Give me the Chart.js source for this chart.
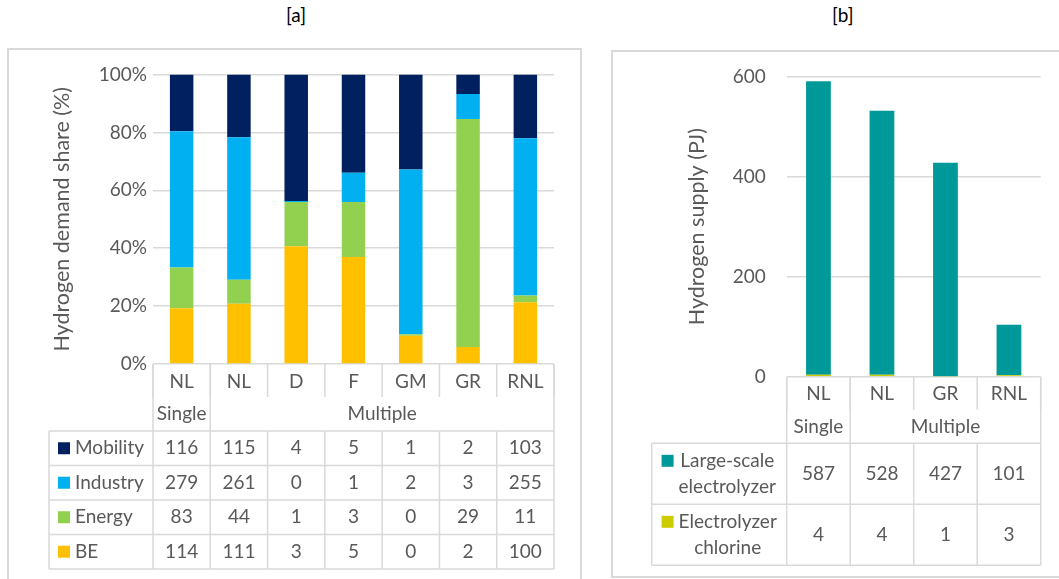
<!DOCTYPE html>
<html>
<head>
<meta charset="utf-8">
<script src="https://cdn.jsdelivr.net/npm/chart.js@4"></script>
<style>
body { margin: 0; width: 1059px; height: 579px; background: #fff; position: relative; overflow: hidden; font-family: Lato, sans-serif; }
.panel { position: absolute; border: 2px solid #D9D9D9; box-sizing: border-box; }
.tag { position: absolute; top: 3px; font-size: 19px; color: #000; }
canvas { position: absolute; }
</style>
</head>
<body>
<div class="tag" style="left:286px">[a]</div>
<div class="tag" style="left:832px">[b]</div>
<div class="panel" style="left:7px;top:48px;width:575px;height:545px"></div>
<div class="panel" style="left:611px;top:50px;width:460px;height:528px"></div>
<canvas id="chartA" width="571" height="529" style="left:9px;top:50px"></canvas>
<canvas id="chartB" width="447" height="528" style="left:612px;top:51px"></canvas>
<script>
// [a] hydrogen demand share, bars in %
const demandCats = ['NL', 'NL', 'D', 'F', 'GM', 'GR', 'RNL']
const demandGroups = [['Single', 1], ['Multiple', 6]]
const beShare = [19.3, 20.8, 40.7, 37.0, 9.8, 5.9, 21.3]
const energyShare = [14.0, 8.3, 15.3, 19.0, 0.5, 78.7, 2.4]
const industryShare = [47.1, 49.2, 0.3, 10.1, 56.9, 8.7, 54.3]
const mobilityShare = [19.6, 21.7, 43.7, 33.9, 32.8, 6.7, 22.0]
// table values (PJ)
const mobilityPJ = [116, 115, 4, 5, 1, 2, 103]
const industryPJ = [279, 261, 0, 1, 2, 3, 255]
const energyPJ = [83, 44, 1, 3, 0, 29, 11]
const bePJ = [114, 111, 3, 5, 0, 2, 100]
const shareTicks = [0, 20, 40, 60, 80, 100]

// [b] hydrogen supply
const supplyCats = ['NL', 'NL', 'GR', 'RNL']
const supplyGroups = [['Single', 1], ['Multiple', 3]]
const largeScale = [587, 528, 427, 101]
const chlorine = [4, 4, 1, 3]
const supplyTicks = [0, 200, 400, 600]

const grey = '#595959',
      lineGrey = '#D9D9D9',
      font = { family: 'Lato', size: 19 },
      titleFont = { family: 'Lato', size: 21.5 };

const dataTable = {
  id: 'dataTable',
  afterDraw(chart, args, o) {
    const { ctx, chartArea: a, scales: { x } } = chart
    const cats = chart.data.labels
    const centers = cats.map((c, i) => x.getPixelForValue(i))
    const w = centers.length > 1 ? centers[1] - centers[0] : a.right - a.left
    const edges = centers.map(c => c - w / 2).concat(centers[centers.length - 1] + w / 2)
    const bottom = a.bottom,
          top = bottom + o.tableTop,
          rowsBottom = top + o.rows.length * o.rowH;

    ctx.save()
    ctx.strokeStyle = lineGrey
    ctx.lineWidth = 1.5
    const line = (x1, y1, x2, y2) => {
      ctx.beginPath(); ctx.moveTo(x1, y1); ctx.lineTo(x2, y2); ctx.stroke()
    }
    // header lines
    edges.forEach(e => line(e, bottom, e, bottom + o.catH))
    let k = 0
    line(edges[0], bottom, edges[0], top)
    o.groups.forEach(g => { k += g[1]; line(edges[k], bottom, edges[k], top) })
    // body lines
    for (let r = 0; r <= o.rows.length; r++) line(o.legendLeft, top + r * o.rowH, edges[edges.length - 1], top + r * o.rowH)
    edges.forEach(e => line(e, top, e, rowsBottom))
    line(o.legendLeft, top, o.legendLeft, rowsBottom)

    // texts
    ctx.font = font.size + 'px ' + font.family
    ctx.fillStyle = grey
    ctx.textAlign = 'center'
    ctx.textBaseline = 'middle'
    cats.forEach((c, i) => ctx.fillText(c, centers[i], bottom + o.catText))
    let s = 0
    o.groups.forEach(([lab, span]) => {
      ctx.fillText(lab, (edges[s] + edges[s + span]) / 2, bottom + o.groupText)
      s += span
    })

    const widths = o.rows.flatMap(r => r.label.map(t => ctx.measureText(t).width))
    const blockW = o.sq + o.gap + Math.max(...widths)
    const x0 = (o.legendLeft + edges[0]) / 2 - blockW / 2
    o.rows.forEach((r, j) => {
      const cy = top + j * o.rowH + o.rowH / 2
      const y0 = cy - (r.label.length - 1) * o.lineH / 2
      const rw = Math.max(...r.label.map(t => ctx.measureText(t).width))
      ctx.fillStyle = r.color
      ctx.fillRect(x0, y0 - o.sq / 2, o.sq, o.sq)
      ctx.fillStyle = grey
      r.label.forEach((t, n) => ctx.fillText(t, x0 + o.sq + o.gap + rw / 2, y0 + n * o.lineH))
      r.values.forEach((v, i) => ctx.fillText(v, centers[i], cy))
    })
    ctx.restore()
  }
}

const baseScales = (ticks, max, fmt, yWidth, tickPad, title, titlePad) => ({
  x: { display: false, stacked: true },
  y: {
    stacked: true, min: 0, max: max,
    // fixed axis width, and let layout padding alone decide the plot top
    afterFit: (sc) => { sc.width = yWidth; sc.paddingTop = 0; sc.paddingBottom = 0 },
    afterBuildTicks: (sc) => { sc.ticks = ticks.map(v => ({ value: v })) },
    border: { display: false },
    grid: { color: lineGrey, lineWidth: 1.5, drawTicks: false },
    ticks: { color: grey, font: font, padding: tickPad, callback: fmt },
    title: { display: true, text: title, color: grey, font: titleFont, padding: { top: titlePad, bottom: 0 } }
  }
})

new Chart(document.getElementById('chartA'), {
  type: 'bar',
  data: {
    labels: demandCats,
    datasets: [
      { label: 'BE', data: beShare, backgroundColor: '#FFC000' },
      { label: 'Energy', data: energyShare, backgroundColor: '#92D050' },
      { label: 'Industry', data: industryShare, backgroundColor: '#00B0F0' },
      { label: 'Mobility', data: mobilityShare, backgroundColor: '#002060' }
    ]
  },
  options: {
    responsive: false,
    animation: false,
    categoryPercentage: 1,
    barPercentage: 0.41,
    layout: { padding: { left: 0, right: 26, top: 24.5, bottom: 215 } },
    plugins: {
      legend: { display: false },
      tooltip: { enabled: false },
      dataTable: {
        tableTop: 67, catH: 33, catText: 17.5, groupText: 50, rowH: 34.5, lineH: 26,
        legendLeft: 40, sq: 12, gap: 5,
        groups: demandGroups,
        rows: [
          { label: ['Mobility'], color: '#002060', values: mobilityPJ },
          { label: ['Industry'], color: '#00B0F0', values: industryPJ },
          { label: ['Energy'], color: '#92D050', values: energyPJ },
          { label: ['BE'], color: '#FFC000', values: bePJ }
        ]
      }
    },
    scales: baseScales(shareTicks, 100, v => v + '%', 144, 6, 'Hydrogen demand share (%)', 40.3)
  },
  plugins: [dataTable]
})

new Chart(document.getElementById('chartB'), {
  type: 'bar',
  data: {
    labels: supplyCats,
    datasets: [
      { label: 'Electrolyzer chlorine', data: chlorine, backgroundColor: '#CCCC00' },
      { label: 'Large-scale electrolyzer', data: largeScale, backgroundColor: '#009999' }
    ]
  },
  options: {
    responsive: false,
    animation: false,
    categoryPercentage: 1,
    barPercentage: 0.39,
    layout: { padding: { left: 0, right: 18.3, top: 25.7, bottom: 202.3 } },
    plugins: {
      legend: { display: false },
      tooltip: { enabled: false },
      dataTable: {
        tableTop: 66.6, catH: 33, catText: 17, groupText: 50, rowH: 61, lineH: 26,
        legendLeft: 39.7, sq: 12, gap: 5,
        groups: supplyGroups,
        rows: [
          { label: ['Large-scale', 'electrolyzer'], color: '#009999', values: largeScale },
          { label: ['Electrolyzer', 'chlorine'], color: '#CCCC00', values: chlorine }
        ]
      }
    },
    scales: baseScales(supplyTicks, 600, v => v, 174.7, 21, 'Hydrogen supply (PJ)', 72)
  },
  plugins: [dataTable]
})
</script>
</body>
</html>
